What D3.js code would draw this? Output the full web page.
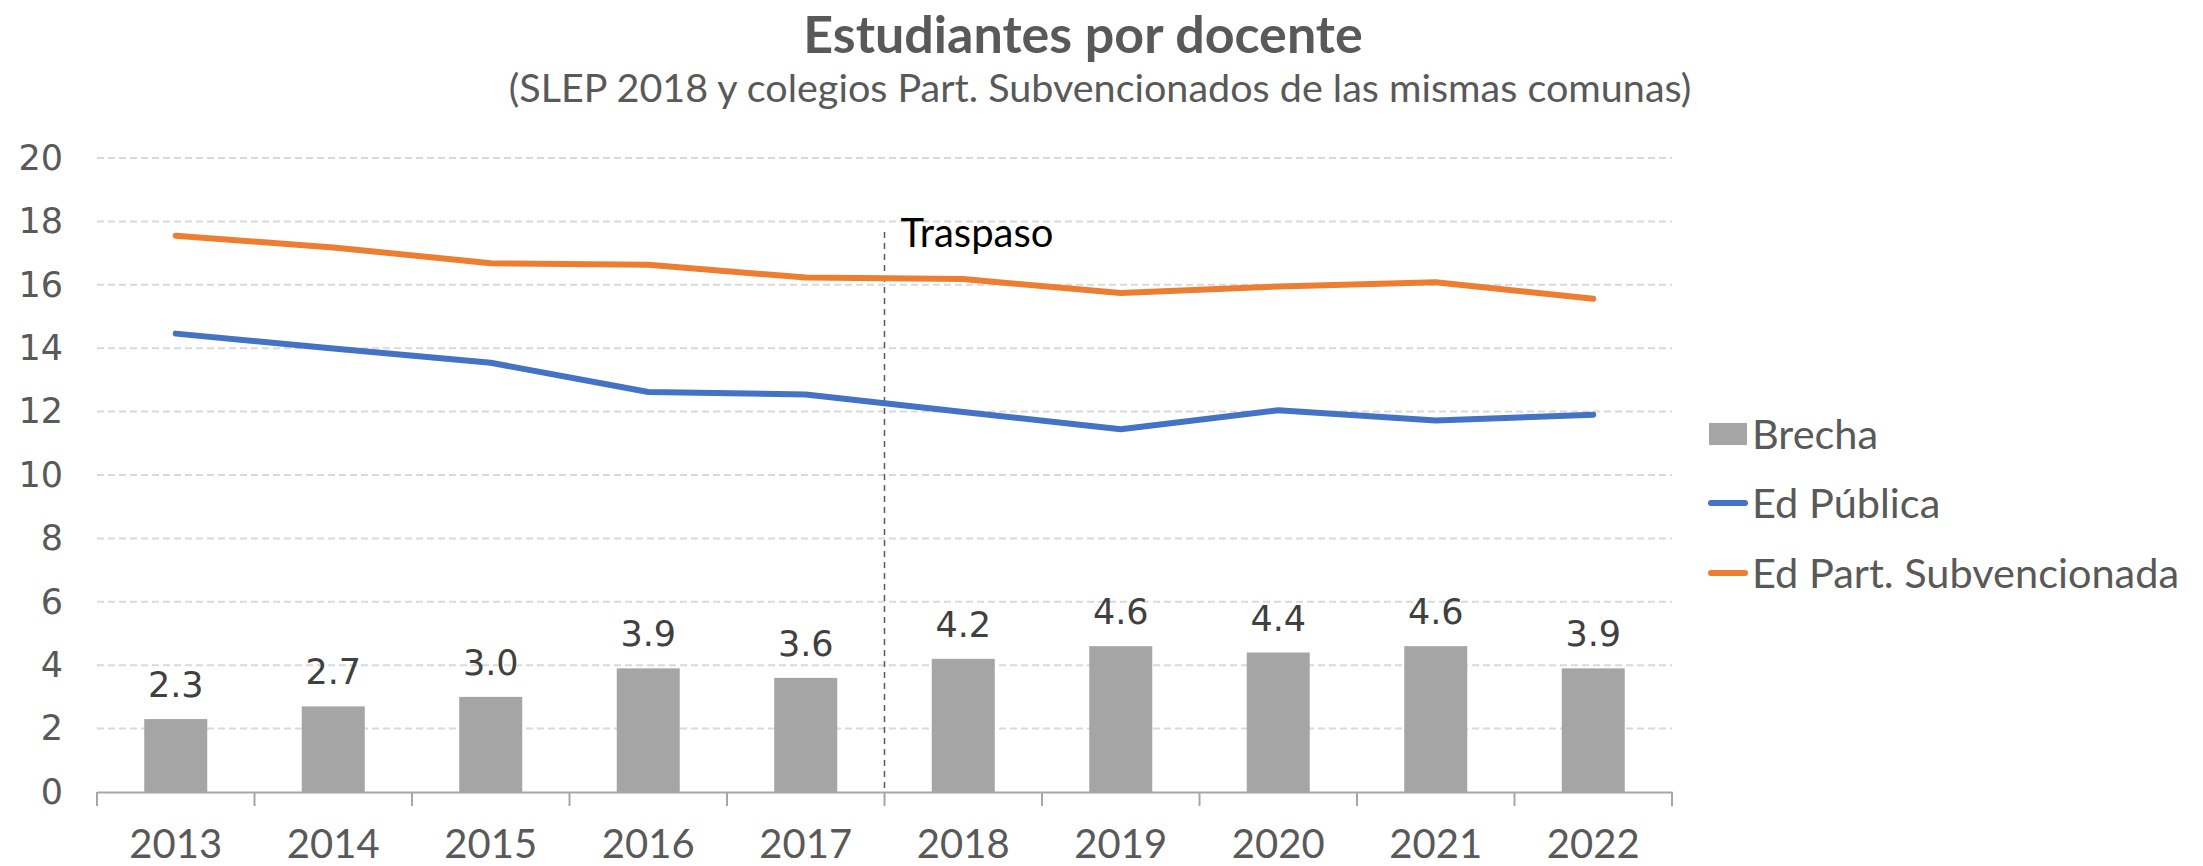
<!DOCTYPE html>
<html>
<head>
<meta charset="utf-8">
<script src="https://cdn.jsdelivr.net/npm/d3@7"></script>
<style>
  html, body { margin: 0; padding: 0; background: #fff; }
</style>
</head>
<body>
<div id="chart"></div>
<script>
// data
var years = ["2013", "2014", "2015", "2016", "2017", "2018", "2019", "2020", "2021", "2022"];
var brecha = [2.3, 2.7, 3.0, 3.9, 3.6, 4.2, 4.6, 4.4, 4.6, 3.9];
var edPublica = [14.46, 13.99, 13.54, 12.62, 12.54, 11.99, 11.44, 12.04, 11.72, 11.90];
var edPartSub = [17.55, 17.18, 16.68, 16.63, 16.23, 16.18, 15.74, 15.95, 16.08, 15.56];
var yTicks = [0, 2, 4, 6, 8, 10, 12, 14, 16, 18, 20];
var seriesNames = ["Brecha", "Ed Pública", "Ed Part. Subvencionada"];
var traspasoYear = "2018";

var W = 2203, H = 866;
var calibri = "Lato, Carlito, Calibri, sans-serif";
var segoe = "'DejaVu Sans', Verdana, sans-serif";

var svg = d3.select("#chart")
  .append("svg")
    .attr("width", W)
    .attr("height", H);

var x = d3.scaleBand()
  .domain(years)
  .range([97, 1672]);

var y = d3.scaleLinear()
  .domain([0, 20])
  .range([792, 158]);

// title
svg.append("text")
  .attr("x", 1083).attr("y", 53)
  .attr("text-anchor", "middle")
  .style("font-family", calibri).style("font-weight", "bold")
  .style("font-size", "52px").style("fill", "#595959")
  .text("Estudiantes por docente");

svg.append("text")
  .attr("x", 1100).attr("y", 102)
  .attr("text-anchor", "middle")
  .style("font-family", calibri)
  .style("font-size", "39.5px").style("fill", "#595959")
  .text("(SLEP 2018 y colegios Part. Subvencionados de las mismas comunas)");

// gridlines
svg.append("g")
  .selectAll("line")
  .data(yTicks.filter(function(d) { return d > 0; }))
  .enter().append("line")
    .attr("x1", x.range()[0]).attr("x2", x.range()[1])
    .attr("y1", function(d) { return y(d); })
    .attr("y2", function(d) { return y(d); })
    .style("stroke", "#D9D9D9")
    .style("stroke-width", 2)
    .style("stroke-dasharray", "7,4");

// y axis
var yAxis = svg.append("g")
  .attr("transform", "translate(" + x.range()[0] + ",0)")
  .call(d3.axisLeft(y).tickValues(yTicks).tickSize(0).tickPadding(34));
yAxis.select(".domain").remove();
yAxis.selectAll("text")
  .style("font-family", segoe).style("font-size", "35px").style("fill", "#595959");

// bars
svg.append("g")
  .selectAll("rect")
  .data(brecha)
  .enter().append("rect")
    .attr("x", function(d, i) { return x(years[i]) + x.bandwidth() * 0.3; })
    .attr("width", x.bandwidth() * 0.4)
    .attr("y", function(d) { return y(d); })
    .attr("height", function(d) { return y(0) - y(d); })
    .style("fill", "#A5A5A5");

// bar labels
svg.append("g")
  .selectAll("text")
  .data(brecha)
  .enter().append("text")
    .attr("x", function(d, i) { return x(years[i]) + x.bandwidth() / 2; })
    .attr("y", function(d) { return y(d) - 22; })
    .attr("text-anchor", "middle")
    .style("font-family", segoe).style("font-size", "35px").style("fill", "#404040")
    .text(function(d) { return d.toFixed(1); });

// x axis
var xAxis = svg.append("g")
  .attr("transform", "translate(0," + y(0) + ")")
  .call(d3.axisBottom(x).tickSize(0).tickPadding(38));
xAxis.select(".domain")
  .style("stroke", "#A6A6A6").style("stroke-width", 2);
xAxis.selectAll("text")
  .style("font-family", calibri).style("font-size", "40px").style("fill", "#595959");

xAxis.selectAll(".bound")
  .data(d3.range(years.length + 1))
  .enter().append("line")
    .attr("class", "bound")
    .attr("x1", function(i) { return x.range()[0] + i * x.step(); })
    .attr("x2", function(i) { return x.range()[0] + i * x.step(); })
    .attr("y1", 0).attr("y2", 14)
    .style("stroke", "#A6A6A6").style("stroke-width", 2);

// traspaso marker
var tx = x(traspasoYear);
svg.append("line")
  .attr("x1", tx).attr("x2", tx)
  .attr("y1", 232).attr("y2", y(0))
  .style("stroke", "#595959")
  .style("stroke-width", 1.5)
  .style("stroke-dasharray", "6,5");

svg.append("text")
  .attr("x", tx + 16).attr("y", 247)
  .style("font-family", calibri).style("font-size", "40px").style("fill", "#000")
  .text("Traspaso");

// lines
var line = d3.line()
  .x(function(d, i) { return x(years[i]) + x.bandwidth() / 2; })
  .y(function(d) { return y(d); });

svg.append("path")
  .datum(edPublica)
  .attr("d", line)
  .style("fill", "none").style("stroke", "#4472C4")
  .style("stroke-width", 6).style("stroke-linecap", "round").style("stroke-linejoin", "round");

svg.append("path")
  .datum(edPartSub)
  .attr("d", line)
  .style("fill", "none").style("stroke", "#ED7D31")
  .style("stroke-width", 6).style("stroke-linecap", "round").style("stroke-linejoin", "round");

// legend
var legend = svg.append("g").attr("transform", "translate(1709,0)");
var legendY = [434, 503, 573];

legend.append("rect")
  .attr("x", 0).attr("y", legendY[0] - 11)
  .attr("width", 38).attr("height", 22)
  .style("fill", "#A5A5A5");

legend.append("line")
  .attr("x1", 2).attr("x2", 36).attr("y1", legendY[1]).attr("y2", legendY[1])
  .style("stroke", "#4472C4").style("stroke-width", 6).style("stroke-linecap", "round");

legend.append("line")
  .attr("x1", 2).attr("x2", 36).attr("y1", legendY[2]).attr("y2", legendY[2])
  .style("stroke", "#ED7D31").style("stroke-width", 6).style("stroke-linecap", "round");

legend.selectAll("text")
  .data(seriesNames)
  .enter().append("text")
    .attr("x", 43)
    .attr("y", function(d, i) { return legendY[i]; })
    .attr("dy", "0.36em")
    .style("font-family", calibri).style("font-size", "41.5px").style("fill", "#595959")
    .text(function(d) { return d; });
</script>
</body>
</html>
